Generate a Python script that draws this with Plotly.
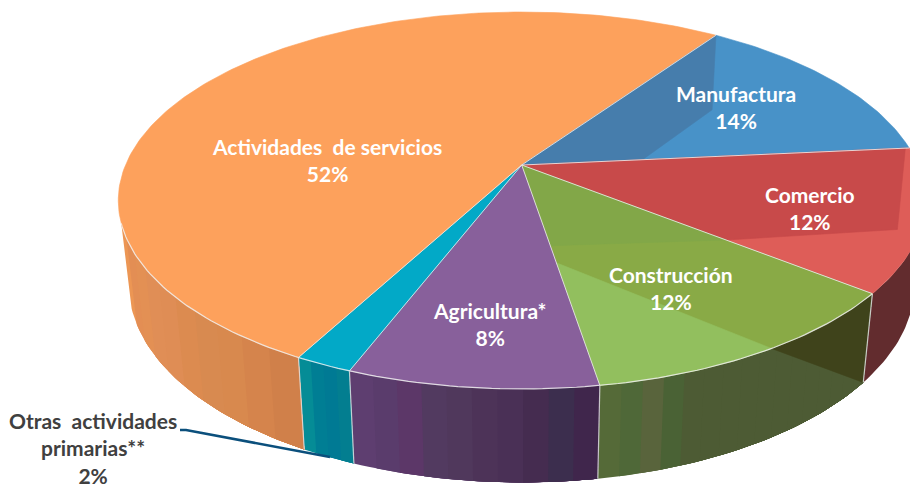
"""3D-look pie: participacion por actividad, drawn as projected disc polygons."""

import numpy as np
import plotly.graph_objects as go

CATEGORIES = [
    "Manufactura",
    "Comercio",
    "Construcción",
    "Agricultura*",
    "Otras  actividades<br>primarias**",
    "Actividades  de servicios",
]
VALUES = [13.9, 12.25, 11.7, 8.4, 1.95, 51.8]

TOP_COLORS = ["#4892C8", "#DE5D58", "#89AA46", "#88609B", "#02A9C7", "#FDA15C"]

# wall colour bands, listed from screen left to screen right
WALL_BANDS = [
    ["#3A6E96"],
    ["#622C2E"],
    ["#556A38", "#4F6838", "#59643C", "#4A6235", "#4D5B34", "#4D5B34", "#4D5B34", "#4D5B34",
     "#4D5B34", "#4D5B34", "#4D5B34", "#4D5B34", "#4D5B34", "#4D5B34", "#4D5B34", "#4D5B34"],
    ["#5E3E70", "#5A3C6C", "#5C3768", "#523A60", "#50385C", "#4D3358", "#4A3056", "#452C50", "#3C2E4E", "#40264C"],
    ["#058C96", "#007E94", "#007A94", "#037E90"],
    ["#EC9654", "#E38E54", "#E39054", "#E08E56", "#DF8D55", "#DC8B50", "#D88A50", "#D8894E", "#D5844C", "#D0804A"],
]

START_ANGLE = 34.5
APEX_X, APEX_Y = 521.7, 165.0
RADIUS_X, RADIUS_Y = 396.2, 181.8
PERSPECTIVE = 0.1883
WALL_X_SCALE = 0.974
WALL_Y_BASE, WALL_Y_TOP, WALL_Y_SCALE = 479.0, 385.7, 1.049
WALL_RIGHT, WALL_LEFT = 100.0, 252.4

# slice boundaries in degrees, clockwise from the back of the disc
edges = START_ANGLE + np.concatenate([[0], np.cumsum(VALUES)]) * 360 / sum(VALUES)


def top(theta, r=1.0):
    t = np.radians(np.asarray(theta, dtype=float))
    u, v = r * np.sin(t), -r * np.cos(t)
    w = 1 - PERSPECTIVE * v
    return APEX_X + RADIUS_X * u / w, APEX_Y + RADIUS_Y * v / w


def bottom(theta):
    x, y = top(theta)
    return APEX_X + WALL_X_SCALE * (x - APEX_X), WALL_Y_BASE + WALL_Y_SCALE * (y - WALL_Y_TOP)


def arc(a, b, step=1.0):
    n = max(2, int(abs(b - a) / step) + 2)
    return np.linspace(a, b, n)


def add_poly(fig, x, y, color, line=None, width=0.6):
    fig.add_trace(go.Scatter(
        x=list(x), y=list(y),
        mode="lines",
        fill="toself",
        fillcolor=color,
        line=dict(color=line or color, width=width),
        hoverinfo="skip",
        showlegend=False,
    ))


def add_line(fig, x, y, color, width=1.0):
    fig.add_trace(go.Scatter(
        x=list(x), y=list(y),
        mode="lines",
        line=dict(color=color, width=width),
        hoverinfo="skip",
        showlegend=False,
    ))


def wall_quad(a, b):
    th = arc(a, b)
    tx, ty = top(th)
    bx, by = bottom(th[::-1])
    return np.concatenate([tx, bx]), np.concatenate([ty, by])


def disc_poly(points):
    xs, ys = [], []
    for theta, r in points:
        x, y = top(theta, r)
        xs.append(float(x))
        ys.append(float(y))
    return xs, ys


fig = go.Figure()

# walls first, the top face is painted over them
for i in range(len(VALUES)):
    lo = max(edges[i], WALL_RIGHT)
    hi = min(edges[i + 1], WALL_LEFT)
    if hi <= lo:
        continue
    bands = WALL_BANDS[i]
    cuts = np.linspace(hi, lo, len(bands) + 1)
    # each band runs to the slice end so the next one covers it without a seam
    for j, color in enumerate(bands):
        x, y = wall_quad(cuts[j], lo)
        add_poly(fig, x, y, color, width=0)

# shadow falling on the construccion wall
th = arc(edges[2], 148)
sx, sy = top(th)
cx, cy = bottom(edges[2])
add_poly(fig, list(sx) + [float(cx)], list(sy) + [float(cy)], "#3F431B")

# wall separators
for e in edges[2:6]:
    tx, ty = top(e)
    bx, by = bottom(e)
    add_line(fig, [tx, bx], [ty, by], "rgba(225,225,225,0.85)", 1.2)

# top face
for i, color in enumerate(TOP_COLORS):
    th = arc(edges[i], edges[i + 1])
    x, y = top(th)
    add_poly(fig, [APEX_X, *x, APEX_X], [APEX_Y, *y, APEX_Y], color)

# lighting patches on the top face, (angle, radius) on the disc
x, y = disc_poly([(0, 0), (edges[0], 1), (57.7, 0.603), (edges[1], 0.308)])
add_poly(fig, x, y, "#467DAC")
x, y = disc_poly([(0, 0), (edges[1], 0.99), (110.5, 0.949), (edges[2], 0.613)])
add_poly(fig, x, y, "#C84A4A")
x, y = disc_poly([(0, 0), (edges[2], 0.613), (edges[3], 0.415)])
add_poly(fig, x, y, "#82A748")
light = [(edges[3], 0.495)] + [(t, 1) for t in arc(148, edges[3])]
x, y = disc_poly(light)
add_poly(fig, x, y, "#92BF5E")

# slice separators and rim highlight
for e in edges[:6]:
    x, y = disc_poly([(0, 0), (e, 1)])
    add_line(fig, x, y, "rgba(235,235,235,0.85)", 1.0)
x, y = top(arc(edges[2], WALL_LEFT))
add_line(fig, x, y, "rgba(240,240,240,0.85)", 1.2)

# leader line for the small slice
add_line(fig, [180, 186, 330], [430, 430, 457], "#0B4F7C", 2.5)

label_pos = [(736, 107), (810, 208), (671, 288), (490, 324), (93, 448), (327, 160)]
for name, value, (lx, ly), color in zip(
    CATEGORIES, VALUES, label_pos, ["#FFFFFF"] * 4 + ["#404040", "#FFFFFF"]
):
    fig.add_annotation(
        x=lx, y=ly,
        text=f"<b>{name}<br>{round(value)}%</b>",
        showarrow=False,
        align="center",
        font=dict(family="Lato, Carlito, sans-serif", size=21, color=color),
    )

fig.update_layout(
    width=910,
    height=488,
    margin=dict(l=0, r=0, t=0, b=0),
    paper_bgcolor="white",
    plot_bgcolor="white",
    xaxis=dict(range=[0, 910], visible=False, fixedrange=True),
    yaxis=dict(range=[488, 0], visible=False, fixedrange=True),
)

fig.write_html(
    "out.html",
    config={"displayModeBar": False},
    post_script="document.body.style.margin='0';",
)
